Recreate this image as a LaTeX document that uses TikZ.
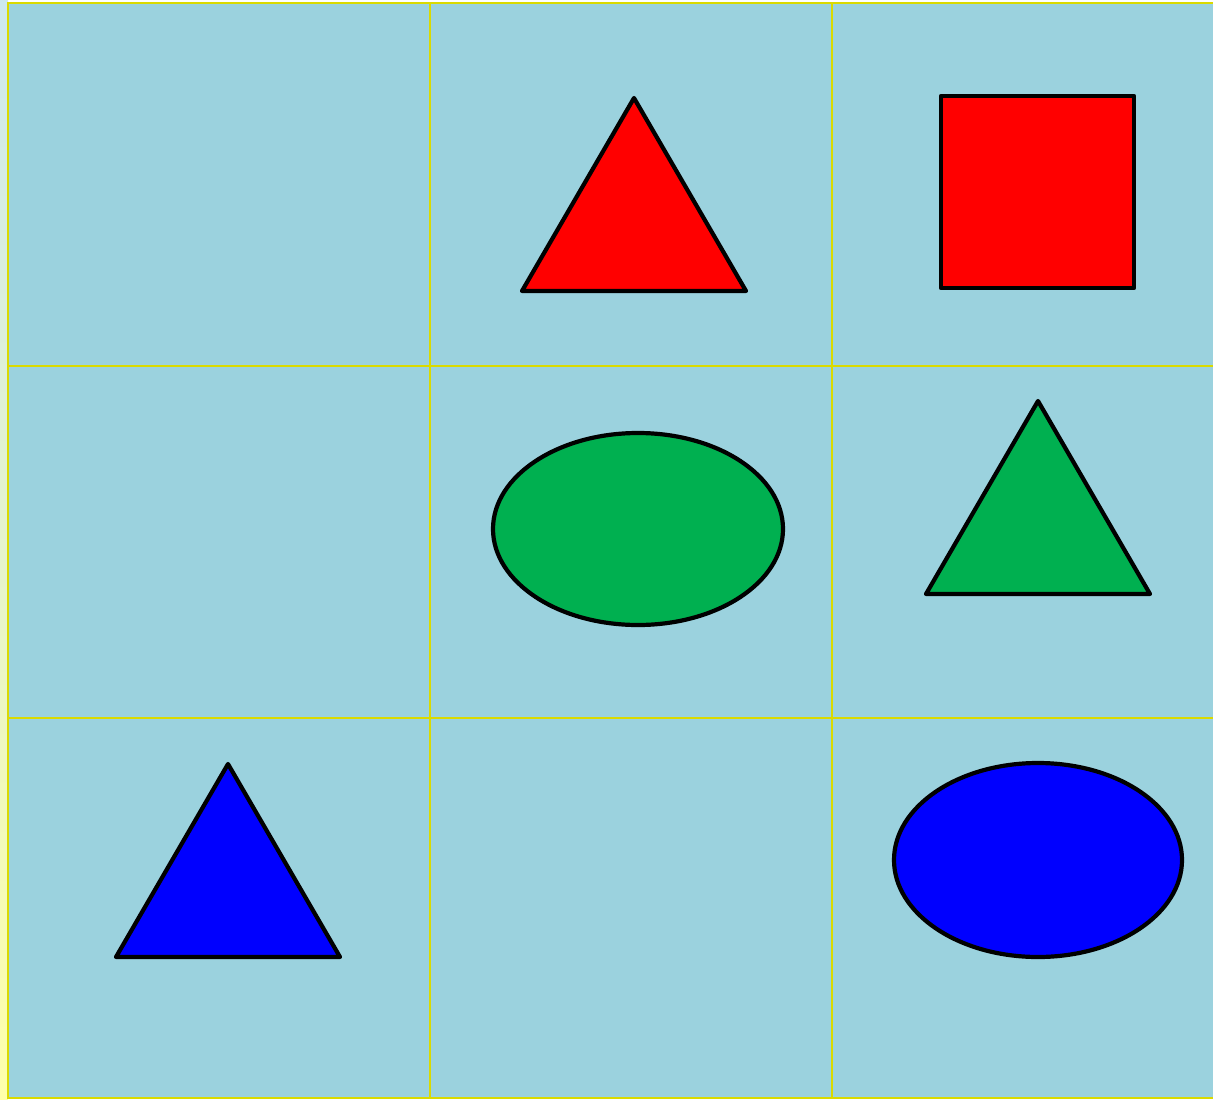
\documentclass[tikz,border=0pt]{standalone}
\usepackage{tikz}
\definecolor{cellblue}{RGB}{155,210,222}
\definecolor{gridyellow}{RGB}{218,218,0}
\definecolor{paleyellow}{RGB}{255,255,170}
\definecolor{shapegreen}{RGB}{0,176,80}
\begin{document}
\begin{tikzpicture}[x=1pt,y=-1pt]
    \tikzset{
      grid/.style={gridyellow,line width=2pt},
      shp/.style={draw=black,line width=4.2pt,line join=round}
    }
    \newcommand{\tri}[3]{%
      \draw[shp,fill=#3] (#1,#2) -- (#1+112,#2+193) -- (#1-112,#2+193) -- cycle;
    }
    \useasboundingbox (0,0) rectangle (1213,1100);
    % background and margin strip
    \shade[top color=cellblue!50!white,bottom color=paleyellow] (0,0) rectangle (8,1100);
    \fill[cellblue] (8,3) rectangle (1213,1098);
    % grid
    \draw[grid] (1215,3) -- (8,3) -- (8,1098) -- (1215,1098);
    \foreach \gx in {430,832} \draw[grid] (\gx,3) -- (\gx,1098);
    \foreach \gy in {366,718} \draw[grid] (8,\gy) -- (1213,\gy);
    % top row
    \tri{634}{98}{red}
    \draw[shp,fill=red] (941,96) rectangle (1134,288);
    % middle row
    \draw[shp,fill=shapegreen] (638,529) ellipse [x radius=145,y radius=96];
    \tri{1038}{401}{shapegreen}
    % bottom row
    \tri{228}{764}{blue}
    \draw[shp,fill=blue] (1038,860) ellipse [x radius=144,y radius=97];
\end{tikzpicture}
\end{document}
